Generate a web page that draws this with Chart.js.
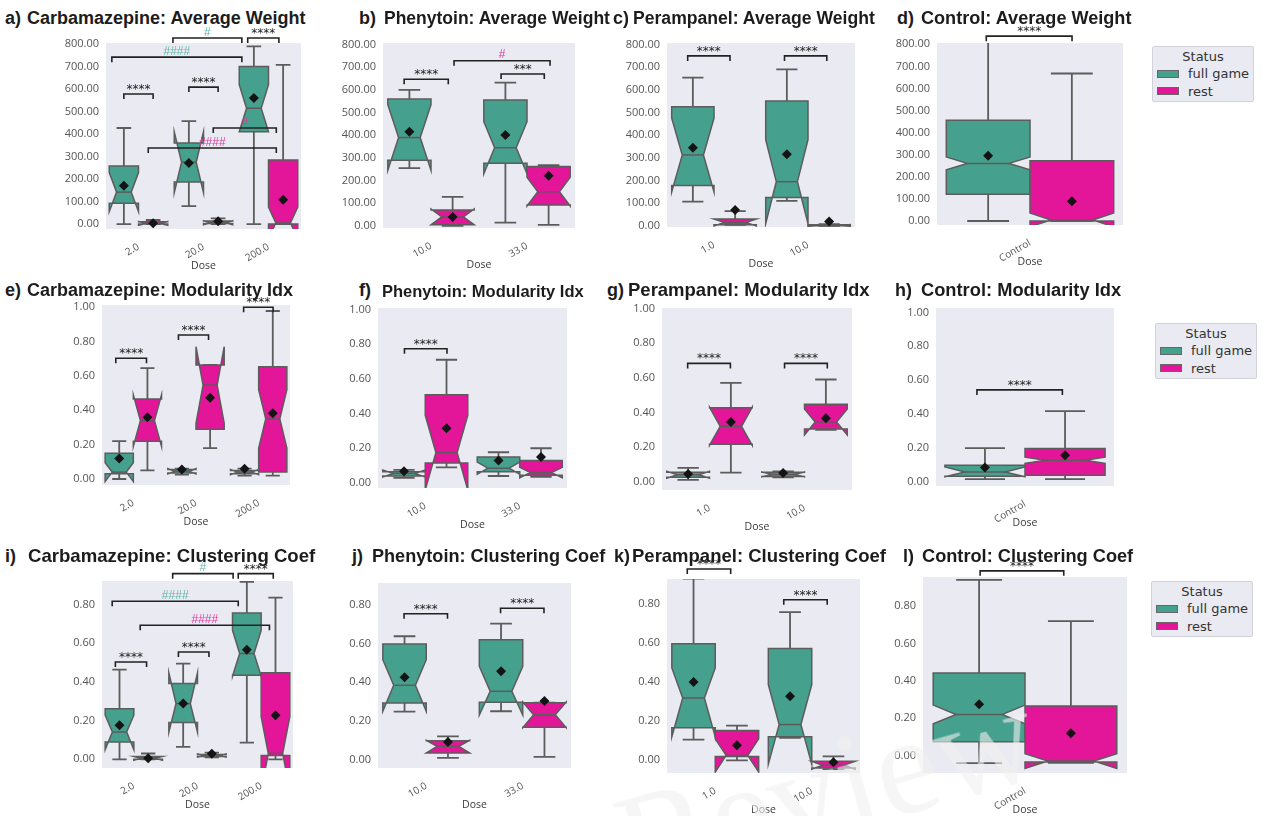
<!DOCTYPE html>
<html>
<head>
<meta charset="utf-8">
<script src="https://cdn.jsdelivr.net/npm/chart.js@4.4.1/dist/chart.umd.min.js"></script>
<style>
  html, body { margin: 0; padding: 0; background: #fff; width: 1262px; height: 816px; overflow: hidden; position: relative; }
  canvas { position: absolute; }
  .ttl { position: absolute; font-family: "Liberation Sans", Arial, sans-serif; font-weight: bold; color: #1c1c1c; white-space: pre; line-height: 1; }
  .legend { position: absolute; width: 102px; height: 56px; box-sizing: border-box; background: #EAEAF2; border: 1px solid #d2d2da; border-radius: 2px; font: 13px "DejaVu Sans", sans-serif; color: #333; }
  .legend .lt { position: absolute; left: 0; right: 0; top: 1px; text-align: center; line-height: 17px; }
  .legend .li { position: absolute; left: 4px; line-height: 17px; white-space: nowrap; }
  .legend .sw { display: inline-block; width: 20px; height: 6px; border: 1px solid #666; vertical-align: middle; margin-right: 9px; position: relative; top: -1px; }
  .mark { position: absolute; font: 140px "Liberation Serif", serif; color: rgba(240,240,240,0.6); transform: rotate(-16deg); transform-origin: left bottom; white-space: nowrap; pointer-events: none; line-height: 1; }
</style>
</head>
<body>
<script>
const STATUS = ['full game', 'rest'];
const STATUS_COLORS = ['#46a08e', '#e3169a'];
const SIG_COLORS = { k: '#222222', f: '#62b8aa', r: '#e0379f' };
const EDGE = '#5c5c5c';

const carbDoses = ['2.0', '20.0', '200.0'];
const phenDoses = ['10.0', '33.0'];
const peraDoses = ['1.0', '10.0'];
const ctrlDoses = ['Control'];

const weightTicks = [0, 100, 200, 300, 400, 500, 600, 700, 800];
const modularityTicks = [0, 0.2, 0.4, 0.6, 0.8, 1.0];
const clusteringTicks = [0, 0.2, 0.4, 0.6, 0.8];

// one row per dose:
// [whisker low, Q1, notch low, median, notch high, Q3, whisker high, mean]
const carbWeightFull = [[0, 93, 55, 142, 229, 258, 427, 170], [80, 187, 140, 275, 410, 360, 458, 272], [0, 410, 410, 515, 620, 700, 790, 560]];
const carbWeightRest = [[0, 0, -5, 3, 11, 10, 18, 4], [0, 2, -3, 6, 15, 14, 25, 12], [0, 0, -65, 5, 75, 285, 708, 108]];
const phenWeightFull = [[255, 290, 245, 390, 535, 560, 600, 415], [15, 277, 230, 345, 460, 556, 632, 401]];
const phenWeightRest = [[0, 5, 5, 40, 75, 70, 128, 40], [5, 93, 88, 151, 215, 262, 268, 222]];
const peraWeightFull = [[107, 178, 150, 313, 475, 526, 654, 345], [110, 125, 10, 195, 380, 551, 691, 316]];
const peraWeightRest = [[5, 5, 0, 15, 30, 30, 65, 70], [0, 0, -2, 2, 6, 5, 8, 19]];
const ctrlWeightFull = [[0, 121, 232, 261, 290, 456, 810, 296]];
const ctrlWeightRest = [[0, 0, -26, 5, 36, 273, 668, 90]];

const carbModFull = [[0, 0.03, -0.015, 0.04, 0.095, 0.15, 0.22, 0.12], [0.025, 0.035, 0.03, 0.045, 0.06, 0.055, 0.06, 0.055], [0.02, 0.03, 0.025, 0.04, 0.055, 0.05, 0.06, 0.06]];
const carbModRest = [[0.05, 0.22, 0.19, 0.34, 0.49, 0.465, 0.645, 0.36], [0.18, 0.29, 0.324, 0.547, 0.77, 0.664, 0.664, 0.473], [0.02, 0.04, 0.18, 0.35, 0.52, 0.654, 0.978, 0.383]];
const phenModFull = [[0.03, 0.04, 0.035, 0.055, 0.075, 0.065, 0.075, 0.068], [0.04, 0.065, 0.05, 0.085, 0.12, 0.15, 0.177, 0.129]];
const phenModRest = [[0.09, 0.115, -0.04, 0.175, 0.39, 0.508, 0.71, 0.315], [0.035, 0.045, 0.03, 0.06, 0.09, 0.13, 0.2, 0.15]];
const peraModFull = [[0.01, 0.025, 0.02, 0.04, 0.06, 0.055, 0.08, 0.045], [0.025, 0.03, 0.028, 0.042, 0.056, 0.055, 0.06, 0.05]];
const peraModRest = [[0.052, 0.216, 0.21, 0.32, 0.43, 0.427, 0.571, 0.345], [0.3, 0.304, 0.27, 0.345, 0.42, 0.447, 0.59, 0.366]];
const ctrlModFull = [[0.016, 0.034, 0.03, 0.059, 0.088, 0.099, 0.2, 0.085]];
const ctrlModRest = [[0.016, 0.04, 0.11, 0.128, 0.146, 0.197, 0.418, 0.158]];

const carbClusFull = [[0, 0.09, 0.05, 0.141, 0.228, 0.262, 0.464, 0.176], [0.064, 0.19, 0.14, 0.288, 0.447, 0.392, 0.495, 0.288], [0.086, 0.435, 0.43, 0.547, 0.667, 0.757, 0.917, 0.567]];
const carbClusRest = [[0, 0, -0.005, 0.005, 0.015, 0.015, 0.03, 0.005], [0.01, 0.015, 0.012, 0.02, 0.028, 0.025, 0.035, 0.029], [0, 0.02, -0.16, 0.03, 0.22, 0.447, 0.836, 0.228]];
const phenClusFull = [[0.248, 0.293, 0.25, 0.384, 0.516, 0.597, 0.637, 0.425], [0.25, 0.296, 0.23, 0.353, 0.482, 0.619, 0.702, 0.457]];
const phenClusRest = [[0.009, 0.035, 0.035, 0.069, 0.1, 0.098, 0.12, 0.091], [0.014, 0.167, 0.165, 0.232, 0.298, 0.294, 0.294, 0.303]];
const peraClusFull = [[0.106, 0.166, 0.12, 0.319, 0.473, 0.596, 0.93, 0.401], [0.115, 0.12, -0.02, 0.183, 0.387, 0.572, 0.758, 0.328]];
const peraClusRest = [[0, 0.02, -0.06, 0.025, 0.11, 0.152, 0.178, 0.077], [-0.045, -0.04, -0.045, -0.025, -0.005, -0.005, 0.02, -0.01]];
const ctrlClusFull = [[-0.041, 0.074, 0.17, 0.22, 0.27, 0.442, 0.942, 0.274]];
const ctrlClusRest = [[-0.04, -0.035, -0.07, -0.03, 0.01, 0.265, 0.72, 0.119]];

// significance brackets: [from, to (in category units from the first dose), height (data units), label, colour key]
const carbWeightSig = [[-0.225, 0.225, 578, '****', 'k'], [0.775, 1.225, 609, '****', 'k'], [-0.41, 1.59, 742, '####', 'f'], [0.53, 1.59, 827, '#', 'f'], [1.68, 2.16, 827, '****', 'k'], [1.15, 2.12, 427, '#', 'r'], [0.15, 2.12, 338, '####', 'r']];
const phenWeightSig = [[-0.28, 0.18, 647, '****', 'k'], [0.73, 1.18, 670, '***', 'k'], [0.24, 1.24, 729, '#', 'r']];
const peraWeightSig = [[-0.28, 0.17, 750, '****', 'k'], [0.75, 1.2, 750, '****', 'k']];
const ctrlWeightSig = [[-0.235, 0.226, 837, '****', 'k']];
const carbModSig = [[-0.28, 0.21, 0.703, '****', 'k'], [0.72, 1.2, 0.838, '****', 'k'], [1.76, 2.23, 1.0, '****', 'k']];
const phenModSig = [[-0.22, 0.23, 0.773, '****', 'k']];
const peraModSig = [[-0.23, 0.22, 0.683, '****', 'k'], [0.79, 1.24, 0.683, '****', 'k']];
const ctrlModSig = [[-0.27, 0.21, 0.543, '****', 'k']];
const carbClusSig = [[-0.29, 0.2, 0.503, '****', 'k'], [0.7, 1.18, 0.555, '****', 'k'], [-0.34, 1.64, 0.817, '####', 'f'], [0.1, 2.13, 0.693, '####', 'r'], [0.61, 1.56, 0.96, '#', 'f'], [1.64, 2.19, 0.96, '****', 'k']];
const phenClusSig = [[-0.23, 0.22, 0.753, '****', 'k'], [0.77, 1.22, 0.782, '****', 'k']];
const peraClusSig = [[-0.29, 0.16, 0.979, '****', 'k'], [0.71, 1.16, 0.822, '****', 'k']];
const ctrlClusSig = [[-0.22, 0.19, 0.99, '****', 'k']];

// panel layout: title pieces, title size, plot rectangle [left, top, right, bottom] and y range
const rowBaseline = [24.5, 296.7, 562.7];
const panels = [
  { pre: 'a)', name: 'Carbamazepine: Average Weight', px: 5, nx: 27, fs: 18, row: 0, doses: carbDoses, stats: [carbWeightFull, carbWeightRest], ticks: weightTicks, range: [-22, 805], area: [106, 43, 301, 229], sig: carbWeightSig },
  { pre: 'b)', name: 'Phenytoin: Average Weight', px: 359, nx: 384, fs: 17.5, row: 0, doses: phenDoses, stats: [phenWeightFull, phenWeightRest], ticks: weightTicks, range: [-9, 807], area: [383, 43, 575, 228], sig: phenWeightSig },
  { pre: 'c)', name: 'Perampanel: Average Weight', px: 613, nx: 633, fs: 17.6, row: 0, doses: peraDoses, stats: [peraWeightFull, peraWeightRest], ticks: weightTicks, range: [-5, 807], area: [667, 43, 855, 227], sig: peraWeightSig },
  { pre: 'd)', name: 'Control: Average Weight', px: 897, nx: 921, fs: 18.1, row: 0, doses: ctrlDoses, stats: [ctrlWeightFull, ctrlWeightRest], ticks: weightTicks, range: [-18, 806], area: [937, 43, 1123, 225], sig: ctrlWeightSig },
  { pre: 'e)', name: 'Carbamazepine: Modularity Idx', px: 5, nx: 27, fs: 18, row: 1, doses: carbDoses, stats: [carbModFull, carbModRest], ticks: modularityTicks, range: [-0.035, 1.013], area: [102, 305, 290, 485], sig: carbModSig },
  { pre: 'f)', name: 'Phenytoin: Modularity Idx', px: 359, nx: 382, fs: 16.5, row: 1, doses: phenDoses, stats: [phenModFull, phenModRest], ticks: modularityTicks, range: [-0.029, 1.008], area: [378, 308, 567, 488], sig: phenModSig },
  { pre: 'g)', name: 'Perampanel: Modularity Idx', px: 607, nx: 628, fs: 18.5, row: 1, doses: peraDoses, stats: [peraModFull, peraModRest], ticks: modularityTicks, range: [-0.048, 1.003], area: [662, 308, 852, 490], sig: peraModSig },
  { pre: 'h)', name: 'Control: Modularity Idx', px: 895, nx: 921, fs: 18.3, row: 1, doses: ctrlDoses, stats: [ctrlModFull, ctrlModRest], ticks: modularityTicks, range: [-0.024, 1.026], area: [936, 308, 1114, 486], sig: ctrlModSig },
  { pre: 'i)', name: 'Carbamazepine: Clustering Coef', px: 5, nx: 28, fs: 18.6, row: 2, doses: carbDoses, stats: [carbClusFull, carbClusRest], ticks: clusteringTicks, range: [-0.045, 0.922], area: [102, 581, 293, 768], sig: carbClusSig },
  { pre: 'j)', name: 'Phenytoin: Clustering Coef', px: 352, nx: 372, fs: 18.1, row: 2, doses: phenDoses, stats: [phenClusFull, phenClusRest], ticks: clusteringTicks, range: [-0.043, 0.912], area: [378, 583, 571, 768], sig: phenClusSig },
  { pre: 'k)', name: 'Perampanel: Clustering Coef', px: 614, nx: 632, fs: 18.5, row: 2, doses: peraDoses, stats: [peraClusFull, peraClusRest], ticks: clusteringTicks, range: [-0.065, 0.928], area: [667, 579, 860, 773], sig: peraClusSig },
  { pre: 'l)', name: 'Control: Clustering Coef', px: 903, nx: 922, fs: 18.2, row: 2, doses: ctrlDoses, stats: [ctrlClusFull, ctrlClusRest], ticks: clusteringTicks, range: [-0.094, 0.957], area: [923, 577, 1127, 773], sig: ctrlClusSig }
];

// draws the notched boxes, whiskers, means and significance brackets
function boxPlugin(panel) {
  return {
    id: 'notchedBoxes',
    beforeDraw(chart) {
      const a = chart.chartArea, ctx = chart.ctx;
      ctx.save();
      ctx.fillStyle = '#EAEAF2';
      ctx.fillRect(a.left, a.top, a.right - a.left, a.bottom - a.top);
      ctx.restore();
    },
    afterDatasetsDraw(chart) {
      const ctx = chart.ctx, a = chart.chartArea;
      const ys = chart.scales.y, xs = chart.scales.x;
      const Y = v => ys.getPixelForValue(v);
      ctx.save();
      ctx.beginPath();
      ctx.rect(a.left, a.top, a.right - a.left, a.bottom - a.top);
      ctx.clip();
      chart.data.datasets.forEach((ds, di) => {
        const meta = chart.getDatasetMeta(di);
        meta.data.forEach((el, i) => {
          const { x, width } = el.getProps(['x', 'width'], true);
          const [lo, q1, nlo, med, nhi, q3, hi, mean] = ds.stats[i];
          const L = x - width / 2, R = x + width / 2, cl = x - width / 4, cr = x + width / 4;
          ctx.strokeStyle = EDGE;
          ctx.lineWidth = 1.8;
          ctx.lineCap = 'butt';
          // whiskers and caps
          ctx.beginPath();
          ctx.moveTo(x, Y(q3)); ctx.lineTo(x, Y(hi));
          ctx.moveTo(x, Y(q1)); ctx.lineTo(x, Y(lo));
          ctx.moveTo(cl, Y(hi)); ctx.lineTo(cr, Y(hi));
          ctx.moveTo(cl, Y(lo)); ctx.lineTo(cr, Y(lo));
          ctx.stroke();
          // notched box outline
          const pts = [[L, q1], [R, q1], [R, nlo], [cr, med], [R, nhi], [R, q3], [L, q3], [L, nhi], [cl, med], [L, nlo], [L, q1]];
          ctx.beginPath();
          pts.forEach(([px, v], k) => k ? ctx.lineTo(px, Y(v)) : ctx.moveTo(px, Y(v)));
          ctx.closePath();
          ctx.fillStyle = ds.fillColor;
          ctx.fill();
          ctx.lineWidth = 1.5;
          ctx.lineJoin = 'miter';
          ctx.stroke();
          // median
          ctx.beginPath();
          ctx.moveTo(cl, Y(med)); ctx.lineTo(cr, Y(med));
          ctx.stroke();
          // mean marker
          const my = Y(mean), s = 5;
          ctx.beginPath();
          ctx.moveTo(x, my - s); ctx.lineTo(x + s, my); ctx.lineTo(x, my + s); ctx.lineTo(x - s, my);
          ctx.closePath();
          ctx.fillStyle = '#141414';
          ctx.fill();
        });
      });
      ctx.restore();

      // significance brackets
      const catW = (xs.right - xs.left) / chart.data.labels.length;
      const x0 = xs.getPixelForValue(0);
      ctx.save();
      panel.sig.forEach(([f, t, h, label, c]) => {
        const x1 = x0 + f * catW, x2 = x0 + t * catW, y = Y(h);
        ctx.strokeStyle = '#222';
        ctx.lineWidth = 1.6;
        ctx.beginPath();
        ctx.moveTo(x1, y + 5); ctx.lineTo(x1, y); ctx.lineTo(x2, y); ctx.lineTo(x2, y + 5);
        ctx.stroke();
        ctx.fillStyle = SIG_COLORS[c];
        ctx.textAlign = 'center';
        ctx.textBaseline = 'alphabetic';
        if (label[0] === '*') {
          ctx.font = '12px "DejaVu Sans"';
          ctx.fillText(label, (x1 + x2) / 2, y - 1);
        } else {
          ctx.font = '12px "Liberation Sans"';
          ctx.fillText(label, (x1 + x2) / 2, y - 2.5);
        }
      });
      ctx.restore();
    }
  };
}

const M = { l: 80, t: 50, r: 10, b: 50 };
const Y_AXIS_W = 70, X_AXIS_H = 45;

panels.forEach(p => {
  // title: panel letter and name
  const base = rowBaseline[p.row];
  [[p.pre, p.px, 18], [p.name, p.nx, p.fs]].forEach(([txt, x, fs]) => {
    const d = document.createElement('div');
    d.className = 'ttl';
    d.textContent = txt;
    d.style.fontSize = fs + 'px';
    d.style.left = x + 'px';
    d.style.top = (base - fs * 0.848) + 'px';
    document.body.appendChild(d);
  });

  const [L, T, R, B] = p.area;
  const cv = document.createElement('canvas');
  cv.width = R - L + M.l + M.r;
  cv.height = B - T + M.t + M.b;
  cv.style.left = (L - M.l) + 'px';
  cv.style.top = (T - M.t) + 'px';
  document.body.appendChild(cv);

  new Chart(cv, {
    type: 'bar',
    data: {
      labels: p.doses,
      datasets: p.stats.map((s, k) => ({
        label: STATUS[k],
        data: s.map(r => [r[1], r[5]]),
        stats: s,
        fillColor: STATUS_COLORS[k],
        backgroundColor: 'rgba(0,0,0,0)',
        borderWidth: 0,
        categoryPercentage: 0.9,
        barPercentage: 1
      }))
    },
    options: {
      responsive: false,
      animation: false,
      events: [],
      layout: { padding: { left: M.l - Y_AXIS_W, top: M.t, right: M.r, bottom: M.b - X_AXIS_H } },
      plugins: { legend: { display: false }, tooltip: { enabled: false } },
      scales: {
        x: {
          grid: { display: false, drawTicks: false },
          border: { display: false },
          ticks: { autoSkip: false, minRotation: 30, maxRotation: 30, padding: 12, color: '#555', font: { family: '"Open Sans"', size: 10 } },
          title: { display: true, text: 'Dose', color: '#3a3a3a', font: { family: '"Open Sans"', size: 10.5 }, padding: { top: 0, bottom: 2 } },
          afterFit: s => { s.height = X_AXIS_H; }
        },
        y: {
          min: p.range[0],
          max: p.range[1],
          grid: { display: false, drawTicks: false },
          border: { display: false },
          ticks: { autoSkip: false, padding: 7, color: '#555', font: { family: '"Open Sans"', size: 11 }, callback: v => Number(v).toFixed(2) },
          afterBuildTicks: s => { s.ticks = p.ticks.map(v => ({ value: v })); },
          afterFit: s => { s.width = Y_AXIS_W; }
        }
      }
    },
    plugins: [boxPlugin(p)]
  });
});

// legends beside the right-hand column
[[1152, 46], [1155, 323], [1151, 581]].forEach(([x, y]) => {
  const box = document.createElement('div');
  box.className = 'legend';
  box.style.left = x + 'px';
  box.style.top = y + 'px';
  let html = '<div class="lt">Status</div>';
  STATUS.forEach((s, k) => {
    html += '<div class="li" style="top:' + (18 + k * 17.5) + 'px"><span class="sw" style="background:' + STATUS_COLORS[k] + '"></span>' + s + '</div>';
  });
  box.innerHTML = html;
  document.body.appendChild(box);
});

// faint watermark along the bottom edge
const wm = document.createElement('div');
wm.className = 'mark';
wm.textContent = 'Review';
wm.style.left = '640px';
wm.style.top = '775px';
document.body.appendChild(wm);
</script>
</body>
</html>
